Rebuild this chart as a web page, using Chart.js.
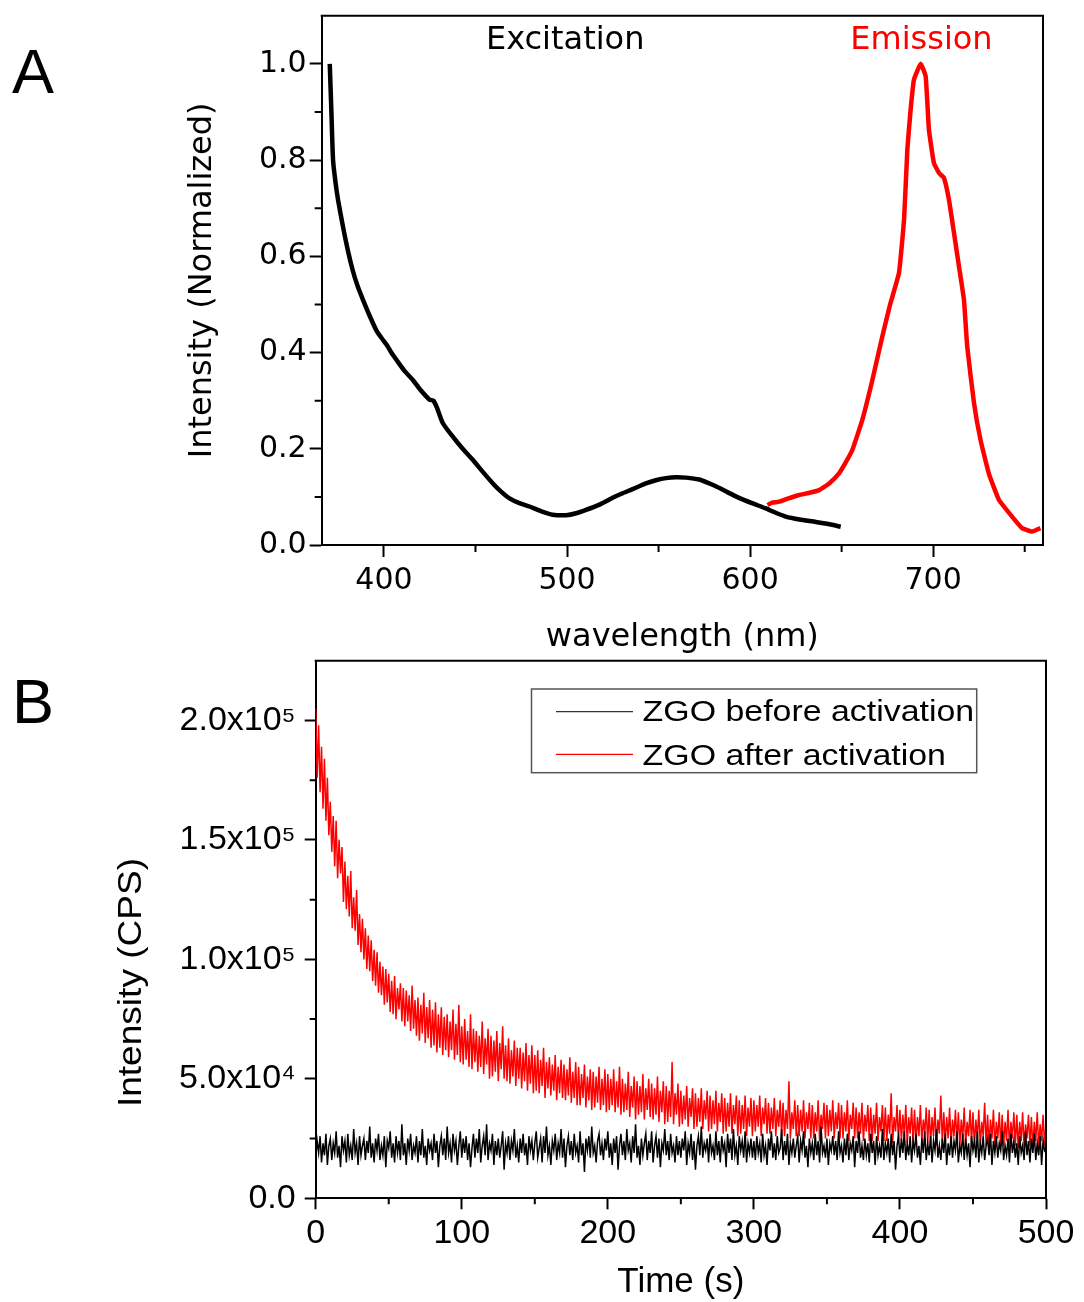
<!DOCTYPE html>
<html><head><meta charset="utf-8">
<script src="https://cdn.jsdelivr.net/npm/chart.js@4/dist/chart.umd.min.js"></script>
<style>
html,body{margin:0;padding:0;background:#fff;}
body{width:1084px;height:1302px;position:relative;overflow:hidden;}
.panel{position:absolute;left:12px;font-family:"Liberation Sans",Arial,sans-serif;font-size:63px;line-height:63px;color:#000;}
#wrapA{position:absolute;left:0;top:0;width:1084px;height:655px;}
#wrapB{position:absolute;left:0;top:655px;width:1084px;height:647px;}
canvas{display:block;}
</style></head>
<body>
<div class="panel" style="top:40px">A</div>
<div class="panel" style="top:670px">B</div>
<div id="wrapA"><canvas id="chartA" width="1084" height="655"></canvas></div>
<div id="wrapB"><canvas id="chartB" width="1084" height="647"></canvas></div>
<script>
// ---------- Panel A data ----------
const wavelengthEx = [370.4,371.3,372.2,373.5,374.9,377.6,380.3,383,385.7,388.5,392,396,399.5,402,404,406.8,411,415.8,420,424.9,427,429,432.2,437.6,443,448.5,454,459.5,464,468.6,474,479.5,486,492.2,499.5,505,510.4,517.7,524.9,530,535.8,543.1,549,554,559.5,565,572.2,577,581.3,587,594,601,608.6,614,619.5,627,635.9,642,649.5];
const excitation = [1.0,0.90,0.80,0.755,0.718,0.662,0.612,0.57,0.537,0.51,0.478,0.445,0.426,0.413,0.40,0.385,0.363,0.343,0.322,0.302,0.300,0.285,0.253,0.225,0.20,0.177,0.152,0.128,0.111,0.097,0.087,0.080,0.070,0.063,0.062,0.066,0.073,0.084,0.098,0.107,0.116,0.128,0.135,0.139,0.141,0.140,0.136,0.129,0.122,0.111,0.098,0.087,0.076,0.067,0.059,0.053,0.048,0.044,0.038];
const wavelengthEm = [609.5,612,615.9,621,626.8,632,637.7,643.2,648.6,652,655.9,661.3,666.8,672.2,676.5,681.3,684.1,685.9,687.7,689.5,693.2,695.9,697.7,700.4,703.2,705.9,708.6,711.4,714.1,716.8,718.6,722.3,725.9,730.4,735.9,743.1,748.6,754.1,758.6];
const emission = [0.083,0.088,0.090,0.097,0.104,0.108,0.114,0.128,0.149,0.170,0.198,0.26,0.343,0.433,0.50,0.565,0.676,0.822,0.905,0.967,1.0,0.974,0.863,0.794,0.773,0.763,0.718,0.648,0.579,0.51,0.413,0.295,0.218,0.149,0.094,0.059,0.035,0.028,0.035];
const xTicksA = [400,500,600,700];
const xMinorA = [450,550,650,750];
const yTicksA = [0,0.2,0.4,0.6,0.8,1.0];
const yTickLabelsA = ['0.0','0.2','0.4','0.6','0.8','1.0'];
const yMinorA = [0.1,0.3,0.5,0.7,0.9];

// ---------- Panel B data (kCPS, one reading per second, t = 0..500 s) ----------
const timeStepB = 1;
const afterActivation = [
205,176,198,170,189,163,184,158,176,152,
166,145,160,139,158,134,150,136,147,124,
141,121,135,118,137,113,126,112,129,106,
119,103,117,100,113,96,110,95,108,91,
104,89,103,86,99,85,97,81,96,82,
94,78,91,77,93,75,88,79,90,74,
88,72,87,74,85,70,89,71,83,68,
84,66,81,69,86,65,80,67,83,63,
79,64,82,61,77,63,80,60,76,62,
77,59,74,62,79,58,73,60,81,57,
72,56,75,58,70,55,77,54,71,57,
70,53,68,55,74,52,67,56,71,50,
68,51,66,53,70,49,65,54,72,50,
64,49,67,48,62,51,66,47,63,50,
63,46,61,49,65,45,60,48,64,44,
60,45,62,44,58,47,63,42,57,46,
59,43,56,45,60,41,55,44,58,42,
56,41,54,43,59,40,53,42,57,39,
55,39,52,42,56,38,51,41,54,37,
53,38,51,40,55,37,50,39,54,36,
52,37,50,39,54,36,49,38,55,35,
50,36,48,37,53,34,47,38,51,33,
49,35,47,36,52,33,46,37,50,34,
48,33,46,35,51,32,45,36,49,31,
47,32,45,34,57,31,44,35,48,30,
45,31,43,33,47,30,42,34,46,29,
44,30,42,32,46,29,41,33,45,28,
43,29,41,31,45,28,40,32,44,27,
42,28,40,30,44,27,39,31,43,26,
41,27,39,29,43,26,38,30,42,26,
41,28,39,30,43,26,38,31,42,27,
40,27,38,29,42,26,37,30,41,26,
40,26,37,29,49,25,36,29,41,26,
39,26,37,28,41,25,36,29,40,25,
39,25,36,28,41,24,35,29,40,25,
39,26,37,28,41,25,36,29,40,25,
39,25,36,28,41,24,35,29,40,25,
38,25,36,27,40,24,35,28,39,24,
38,24,35,27,40,24,34,28,39,24,
38,24,35,27,44,23,34,28,39,24,
37,24,35,26,39,23,34,27,38,23,
37,23,34,26,39,23,33,27,38,23,
37,23,34,26,38,22,33,27,43,23,
36,23,34,25,38,22,33,26,37,23,
36,22,33,25,38,22,32,26,37,23,
36,22,33,25,37,22,32,26,40,22,
35,22,33,25,37,21,32,25,36,22,
35,22,32,24,37,21,32,25,36,22,
35,21,32,24,36,21,31,25,35,22,
34,21,32,24,36,21,31,24,35,22,
31];
const beforeActivation = [
17,24,19,26,15,23,18,27,14,22,
25,16,23,19,28,17,22,13,26,20,
24,15,27,18,22,16,29,19,23,14,
26,18,22,25,16,24,19,30,17,23,
15,25,20,27,16,22,18,26,13,24,
21,28,17,23,15,26,19,24,16,31,
18,23,14,25,20,27,16,22,19,26,
15,24,18,29,17,22,14,25,20,23,
16,27,19,24,13,22,26,18,25,16,
30,19,23,15,27,20,24,14,22,28,
17,25,19,26,16,23,13,21,27,17,
25,19,29,15,22,26,18,31,16,23,
20,27,14,24,18,25,17,22,28,12,
23,19,26,16,24,20,29,17,22,15,
25,19,27,18,23,14,26,20,24,16,
23,28,17,21,25,15,26,19,30,18,
22,14,24,20,27,16,23,19,29,17,
25,13,22,26,18,24,16,27,19,22,
15,28,18,23,11,25,20,26,17,30,
19,22,15,24,27,18,23,16,25,20,
28,17,23,14,25,19,26,12,22,27,
18,24,16,29,20,23,15,26,19,31,
17,22,14,25,18,23,27,16,24,19,
28,15,22,26,17,25,13,23,20,29,
18,24,16,27,19,22,15,26,18,24,
17,25,20,28,14,23,19,27,16,24,
12,22,26,18,30,17,23,20,25,15,
27,19,22,16,28,18,24,15,26,20,
23,13,27,19,25,16,29,18,22,14,
26,20,24,17,28,15,23,19,25,17,
24,16,26,19,23,15,27,18,22,14,
25,20,28,17,23,16,26,19,21,29,
16,24,18,27,14,23,19,25,17,22,
26,15,24,20,28,17,22,13,25,19,
23,16,27,18,24,15,30,19,22,17,
25,14,23,20,26,18,24,16,28,19,
22,15,25,18,27,16,23,20,26,13,
24,19,28,17,22,16,25,18,23,15,
27,19,24,14,26,18,22,17,29,16,
23,19,25,15,27,18,24,12,22,26,
17,25,19,28,16,23,18,26,15,24,
20,27,17,22,14,25,19,28,16,23,
18,26,15,24,20,29,17,22,16,25,
19,27,14,23,18,26,17,24,20,28,
15,22,19,27,16,25,18,23,13,26,
20,24,17,28,15,23,19,26,16,22,
25,18,27,14,24,19,26,17,23,20,
28,16,22,18,25,15,27,19,24,17,
23,14,26,19,22,16,28,18,24,15,
25,19,27,16,23,18,26,14,24,20,
21];
const seriesNamesB = ['ZGO before activation','ZGO after activation'];
const xTicksB = [0,100,200,300,400,500];
const xMinorB = [50,150,250,350,450];
const yTicksB = [0,50,100,150,200];
const yTickLabelsB = ['0.0','5.0x10\u2074','1.0x10\u2075','1.5x10\u2075','2.0x10\u2075'];
const yMinorB = [25,75,125,175];

// ---------- helpers ----------
const toXY = (xs, ys) => ys.map((y, i) => ({x: xs[i], y}));
const setTicks = arr => s => { s.ticks = arr.map(v => ({value: v})); };

function framePlugin(minorX, minorY, len, lw) {
  return {
    id: 'frameMinor',
    afterDraw(chart) {
      const {ctx, chartArea: a, scales: {x, y}} = chart;
      ctx.save();
      ctx.strokeStyle = '#000';
      ctx.lineWidth = lw;
      ctx.beginPath();
      ctx.moveTo(a.left - 1, a.top);
      ctx.lineTo(a.right, a.top);
      ctx.lineTo(a.right, a.bottom + 1);
      ctx.stroke();
      ctx.beginPath();
      minorX.forEach(v => { const px = x.getPixelForValue(v); ctx.moveTo(px, a.bottom); ctx.lineTo(px, a.bottom + len); });
      minorY.forEach(v => { const py = y.getPixelForValue(v); ctx.moveTo(a.left, py); ctx.lineTo(a.left - len, py); });
      ctx.stroke();
      ctx.restore();
    }
  };
}

const famA = '"DejaVu Sans", sans-serif';
const famB = '"Liberation Sans", Arial, sans-serif';

// ---------- Chart A ----------
const annotA = {
  id: 'annotA',
  afterDraw(chart) {
    const {ctx, scales: {x, y}} = chart;
    ctx.save();
    ctx.font = '32px ' + famA;
    ctx.textAlign = 'center';
    ctx.textBaseline = 'alphabetic';
    ctx.fillStyle = '#000';
    ctx.fillText('Excitation', x.getPixelForValue(499), y.getPixelForValue(1.03));
    ctx.fillStyle = '#ff0000';
    ctx.fillText('Emission', x.getPixelForValue(693.6), y.getPixelForValue(1.03));
    ctx.restore();
  }
};

new Chart(document.getElementById('chartA'), {
  type: 'line',
  data: {
    datasets: [
      {label: 'Excitation', data: toXY(wavelengthEx, excitation), borderColor: '#000', borderWidth: 4.5, pointRadius: 0, tension: 0.2, fill: false},
      {label: 'Emission', data: toXY(wavelengthEm, emission), borderColor: '#ff0000', borderWidth: 4.5, pointRadius: 0, tension: 0.12, fill: false}
    ]
  },
  options: {
    responsive: false, animation: false, devicePixelRatio: 1,
    layout: {padding: {left: 0, top: 15.7, right: 41, bottom: 0}, autoPadding: false},
    plugins: {legend: {display: false}, tooltip: {enabled: false}},
    scales: {
      x: {
        type: 'linear', min: 366, max: 760,
        afterBuildTicks: setTicks(xTicksA),
        afterFit: s => { s.height = 110; s.paddingLeft = 0; s.paddingRight = 0; },
        ticks: {font: {family: famA, size: 30}, color: '#000', padding: 6, maxRotation: 0, autoSkip: false, callback: (v) => String(v)},
        grid: {drawOnChartArea: false, tickLength: 12, tickWidth: 2, tickColor: '#000'},
        border: {color: '#000', width: 2},
        title: {display: true, text: 'wavelength (nm)', color: '#000', font: {family: famA, size: 32, lineHeight: 1}, padding: {top: 0, bottom: 1.7}}
      },
      y: {
        type: 'linear', min: 0, max: 1.1,
        afterBuildTicks: setTicks(yTicksA),
        afterFit: s => { s.width = 321.7; s.paddingTop = 0; s.paddingBottom = 0; },
        ticks: {font: {family: famA, size: 30}, color: '#000', padding: 3, autoSkip: false, callback: (v, i) => yTickLabelsA[i]},
        grid: {drawOnChartArea: false, tickLength: 12, tickWidth: 2, tickColor: '#000'},
        border: {color: '#000', width: 2},
        title: {display: true, text: 'Intensity (Normalized)', color: '#000', font: {family: famA, size: 32, lineHeight: 1}, padding: {top: 187, bottom: 0}}
      }
    }
  },
  plugins: [framePlugin(xMinorA, yMinorA, 7, 2), annotA]
});

// ---------- Chart B ----------
const timeB = afterActivation.map((_, i) => i * timeStepB);

const legendB = {
  id: 'legendB',
  afterDraw(chart) {
    const {ctx} = chart;
    const items = [{text: seriesNamesB[0], color: '#333', y: 56.7, ty: 58}, {text: seriesNamesB[1], color: '#ff0000', y: 99.3, ty: 101.3}];
    ctx.save();
    ctx.fillStyle = '#fff';
    ctx.fillRect(531.5, 34, 445.2, 83.7);
    ctx.strokeStyle = '#555';
    ctx.lineWidth = 1.5;
    ctx.strokeRect(531.5, 34, 445.2, 83.7);
    items.forEach(it => {
      ctx.strokeStyle = it.color;
      ctx.lineWidth = 1.3;
      ctx.beginPath();
      ctx.moveTo(556, it.y);
      ctx.lineTo(633, it.y);
      ctx.stroke();
      ctx.save();
      ctx.translate(642.6, it.ty);
      ctx.scale(1.13, 1);
      ctx.font = '30px ' + famB;
      ctx.fillStyle = '#000';
      ctx.textAlign = 'left';
      ctx.textBaseline = 'middle';
      ctx.fillText(it.text, 0, 0);
      ctx.restore();
    });
    // rotated y-axis title
    ctx.save();
    ctx.translate(131.7, 327.5);
    ctx.rotate(-Math.PI / 2);
    ctx.scale(1.09, 1);
    ctx.font = '34px ' + famB;
    ctx.fillStyle = '#000';
    ctx.textAlign = 'center';
    ctx.textBaseline = 'middle';
    ctx.fillText('Intensity (CPS)', 0, 0);
    ctx.restore();
    ctx.restore();
  }
};

new Chart(document.getElementById('chartB'), {
  type: 'line',
  data: {
    datasets: [
      {label: seriesNamesB[0], data: toXY(timeB, beforeActivation), borderColor: '#000', borderWidth: 1.5, pointRadius: 0, tension: 0, fill: false},
      {label: seriesNamesB[1], data: toXY(timeB, afterActivation), borderColor: '#ff0000', borderWidth: 1.5, pointRadius: 0, tension: 0, fill: false}
    ]
  },
  options: {
    responsive: false, animation: false, devicePixelRatio: 1,
    layout: {padding: {left: 0, top: 5.7, right: 38, bottom: 0}, autoPadding: false},
    plugins: {legend: {display: false}, tooltip: {enabled: false}},
    scales: {
      x: {
        type: 'linear', min: 0, max: 500,
        afterBuildTicks: setTicks(xTicksB),
        afterFit: s => { s.height = 103.7; s.paddingLeft = 0; s.paddingRight = 0; },
        ticks: {font: {family: famB, size: 34}, color: '#000', padding: 3.5, maxRotation: 0, autoSkip: false, callback: (v) => String(v)},
        grid: {drawOnChartArea: false, tickLength: 11, tickWidth: 2, tickColor: '#000'},
        border: {color: '#000', width: 2},
        title: {display: true, text: 'Time (s)', color: '#000', font: {family: famB, size: 35, lineHeight: 1}, padding: {top: 0, bottom: 2}}
      },
      y: {
        type: 'linear', min: 0, max: 225,
        afterBuildTicks: setTicks(yTicksB),
        afterFit: s => { s.width = 315.7; s.paddingTop = 0; s.paddingBottom = 0; },
        ticks: {font: {family: famB, size: 34}, color: '#000', padding: 9, autoSkip: false, callback: (v, i) => yTickLabelsB[i]},
        grid: {drawOnChartArea: false, tickLength: 11, tickWidth: 2, tickColor: '#000'},
        border: {color: '#000', width: 2},
        title: {display: false}
      }
    }
  },
  plugins: [framePlugin(xMinorB, yMinorB, 6, 2), legendB]
});
</script>
</body></html>
